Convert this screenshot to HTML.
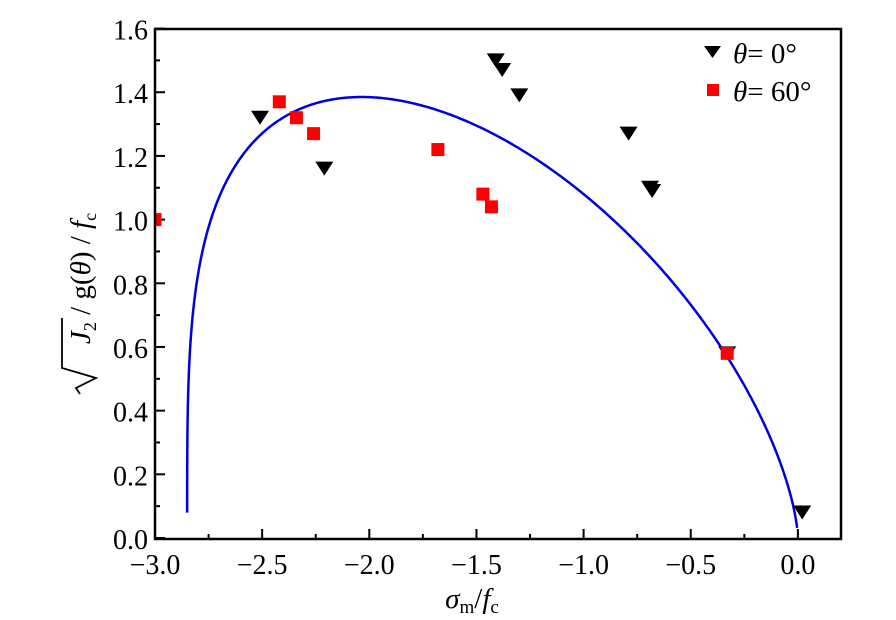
<!DOCTYPE html>
<html><head><meta charset="utf-8"><style>
html,body{margin:0;padding:0;background:#fff;}
svg{display:block;font-family:"Liberation Serif",serif;}
</style></head><body>
<svg id="s" width="896" height="620" viewBox="0 0 896 620" xmlns="http://www.w3.org/2000/svg">
<defs><clipPath id="c"><rect x="155" y="29" width="686" height="510"/></clipPath></defs>
<g id="ticks" stroke="#000" stroke-width="2"></g>
<path id="curve" d="" fill="none" stroke="#0000dd" stroke-width="2.5" clip-path="url(#c)"/>
<g id="pts" clip-path="url(#c)"></g>
<rect x="155" y="29" width="686" height="510" fill="none" stroke="#000" stroke-width="2.5"/>
<g id="labels" font-size="28" fill="#000"></g>
<text x="472" y="608" font-size="29" text-anchor="middle"><tspan font-style="italic">σ</tspan><tspan font-size="19" dy="5">m</tspan><tspan dy="-5">/</tspan><tspan font-style="italic">f</tspan><tspan font-size="19" dy="5">c</tspan></text>
<g transform="translate(82,280) rotate(-90)">
<text x="-64" y="8" font-size="29"><tspan font-style="italic">J</tspan><tspan font-size="18" dy="6">2</tspan><tspan dy="-6"> / g(</tspan><tspan font-style="italic">θ</tspan><tspan>) / </tspan><tspan font-style="italic">f</tspan><tspan font-size="18" dy="6">c</tspan></text>
<path d="M-114,-2 L-108,-6 L-98,14 L-88,-20 L-38,-20" fill="none" stroke="#000" stroke-width="1.8"/>
</g>
<path d="M704,46 L721,46 L712.5,58 Z" fill="#000"/>
<rect x="707" y="84" width="12" height="12" fill="#f00"/>
<text x="733" y="63" font-size="29"><tspan font-style="italic">θ</tspan>= 0°</text>
<text x="733" y="101" font-size="29"><tspan font-style="italic">θ</tspan>= 60°</text>
</svg>
<script>
var NS="http://www.w3.org/2000/svg";
function X(x){return 155+(x+3)*214.3;}
function Y(y){return 538-y*318.4;}
var tk=document.getElementById("ticks"),lb=document.getElementById("labels");
function line(x1,y1,x2,y2){var l=document.createElementNS(NS,"line");l.setAttribute("x1",x1);l.setAttribute("y1",y1);l.setAttribute("x2",x2);l.setAttribute("y2",y2);tk.appendChild(l);}
function txt(x,y,s,a){var t=document.createElementNS(NS,"text");t.setAttribute("x",x);t.setAttribute("y",y);t.setAttribute("text-anchor",a);t.textContent=s;lb.appendChild(t);}
for(var i=0;i<=12;i++){var x=-3+i*0.25,px=X(x);var maj=i%2==0;line(px,539,px,539-(maj?10:5));
 if(maj){txt(px,574,(x<0?"\u2212":"")+Math.abs(x).toFixed(1),"middle");}}
for(var i=0;i<=16;i++){var y=i*0.1,py=Y(y);var maj=i%2==0;line(155,py,155+(maj?10:5),py);
 if(maj)txt(148,py+11,y.toFixed(1),"end");}
var p=0.26,q=0.65,L=2.85;
var pk=0;for(var t=0.005;t<L;t+=0.005){var v=Math.pow(t,p)*Math.pow(L-t,q);if(v>pk)pk=v;}var C=1.385/pk;
var d="";var N=600;
for(var i=0;i<=N;i++){var u=i/N;var t=L*(u*u*(3-2*u));t=Math.max(6e-6,Math.min(L-0.0037,t));
 var y=C*Math.pow(t,p)*Math.pow(L-t,q);var x=t-L;d+=(i?"L":"M")+X(x).toFixed(2)+","+Y(y).toFixed(2);}
document.getElementById("curve").setAttribute("d",d);
var g=document.getElementById("pts");
var tri=[[-2.51,1.32],[-2.21,1.16],[-1.41,1.50],[-1.38,1.47],[-1.30,1.39],[-0.79,1.27],[-0.69,1.10],[-0.68,1.09],[-0.33,0.58],[0.02,0.08]];
var sq=[[-3.0,1.0],[-2.42,1.37],[-2.34,1.32],[-2.26,1.27],[-1.68,1.22],[-1.47,1.08],[-1.43,1.04],[-0.33,0.58]];
tri.forEach(function(a){var cx=X(a[0]),cy=Y(a[1]);var e=document.createElementNS(NS,"path");
 e.setAttribute("d","M"+(cx-9)+","+(cy-7)+"L"+(cx+9)+","+(cy-7)+"L"+cx+","+(cy+7)+"Z");e.setAttribute("fill","#000");g.appendChild(e);});
sq.forEach(function(a){var cx=X(a[0]),cy=Y(a[1]);var e=document.createElementNS(NS,"rect");
 e.setAttribute("x",cx-6.5);e.setAttribute("y",cy-6.5);e.setAttribute("width",13);e.setAttribute("height",13);e.setAttribute("fill","#f00");g.appendChild(e);});
</script>
</body></html>
